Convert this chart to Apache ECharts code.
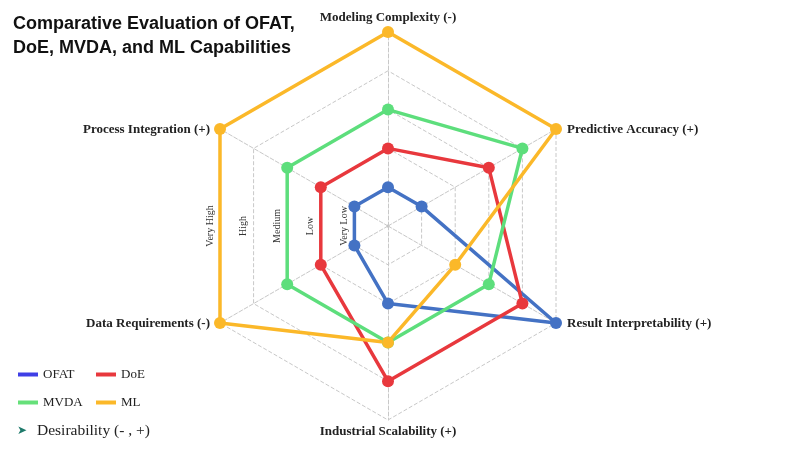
<!DOCTYPE html>
<html><head><meta charset="utf-8">
<script src="https://cdn.jsdelivr.net/npm/echarts@6/dist/echarts.min.js"></script>
<style>html,body{margin:0;padding:0;background:#fff}#c{width:800px;height:451px}</style>
</head><body><div id="c"></div>
<script>
const indicators = ['Modeling Complexity (-)', 'Process Integration (+)', 'Data Requirements (-)', 'Industrial Scalability (+)', 'Result Interpretability (+)', 'Predictive Accuracy (+)'];
const levelLabels = ['Very Low', 'Low', 'Medium', 'High', 'Very High'];
const seriesNames = ['OFAT', 'DoE', 'MVDA', 'ML'];
const ofat = [1, 1, 1, 2, 5, 1];
const doe  = [2, 2, 2, 4, 4, 3];
const mvda = [3, 3, 3, 3, 3, 4];
const ml   = [5, 5, 5, 3, 2, 5];
const colors = ['#4472C4', '#E8383D', '#5DDE7C', '#FBB829'];
const legendColors = ['#3F3FE6', '#E8383D', '#66E07A', '#FBB829'];

const CX = 388, CY = 226, R = 194, MAXV = 5;
const chart = echarts.init(document.getElementById('c'));
const values = [ofat, doe, mvda, ml];
const serif = '"Liberation Serif","Times New Roman",serif';

const graphics = levelLabels.map((t, i) => ({
  type: 'text',
  x: CX - (i + 1) * R / MAXV * Math.cos(Math.PI / 6) - 10,
  y: CY,
  rotation: Math.PI / 2,
  style: { text: t, fontFamily: serif, fontSize: 10, fill: '#333', textAlign: 'center', textVerticalAlign: 'middle' }
}));
// axis names placed around the radar vertices
indicators.forEach((n, i) => {
  const a = Math.PI / 2 + i * Math.PI / 3;
  const vx = CX + R * Math.cos(a), vy = CY - R * Math.sin(a);
  let x = vx, y = vy, align = 'center';
  const c = Math.cos(a);
  if (Math.abs(c) < 0.01) { y = Math.sin(a) > 0 ? vy - 14 : vy + 12; }
  else if (c > 0) { x = vx + 11; align = 'left'; y = vy + 0.5; }
  else { x = vx - 10; align = 'right'; y = vy + 0.5; }
  graphics.push({ type: 'text', x: x, y: y,
    style: { text: n, fontFamily: serif, fontWeight: 'bold', fontSize: 13, fill: '#222', textAlign: align, textVerticalAlign: 'middle' } });
});
graphics.push({ type: 'circle', shape: { cx: CX, cy: CY, r: 1.5 }, style: { fill: '#aaa' } });
graphics.push({ type: 'text', left: 17, top: 425, style: { text: '➤', fontFamily: 'DejaVu Sans', fontSize: 12, fill: '#1f7a6b' } });
graphics.push({ type: 'text', left: 37, top: 423, style: { text: 'Desirability (- , +)', fontFamily: serif, fontSize: 15.5, fill: '#222' } });

const legendItem = (n) => ({ name: n, itemStyle: { color: legendColors[seriesNames.indexOf(n)] } });

chart.setOption({
  backgroundColor: '#fff',
  title: {
    text: 'Comparative Evaluation of OFAT,\nDoE, MVDA, and ML Capabilities',
    left: 8, top: 7,
    textStyle: { fontFamily: '"Liberation Sans",Arial,sans-serif', fontWeight: 'bold', fontSize: 18, lineHeight: 24, color: '#111' }
  },
  legend: [
    { data: ['OFAT', 'MVDA'].map(legendItem), orient: 'vertical', left: 18, top: 368, padding: 0, itemGap: 15, itemWidth: 20, itemHeight: 4, icon: 'rect',
      textStyle: { fontFamily: serif, fontSize: 13, color: '#222' } },
    { data: ['DoE', 'ML'].map(legendItem), orient: 'vertical', left: 96, top: 368, padding: 0, itemGap: 15, itemWidth: 20, itemHeight: 4, icon: 'rect',
      textStyle: { fontFamily: serif, fontSize: 13, color: '#222' } }
  ],
  radar: {
    center: [CX, CY], radius: R, startAngle: 90, splitNumber: 5, shape: 'polygon',
    indicator: indicators.map(n => ({ name: n, min: 0, max: MAXV })),
    axisName: { show: false },
    splitArea: { show: false },
    splitLine: { lineStyle: { color: '#c8c8c8', type: 'dashed', width: 1 } },
    axisLine: { lineStyle: { color: '#c8c8c8', type: 'dashed', width: 1 } }
  },
  graphic: graphics,
  series: [{
    type: 'radar',
    symbol: 'circle', symbolSize: 12,
    data: seriesNames.map((n, i) => ({
      name: n, value: values[i],
      lineStyle: { color: colors[i], width: 3.5 },
      itemStyle: { color: colors[i] },
      areaStyle: { opacity: 0 }
    }))
  }],
  color: colors
});
</script></body></html>
